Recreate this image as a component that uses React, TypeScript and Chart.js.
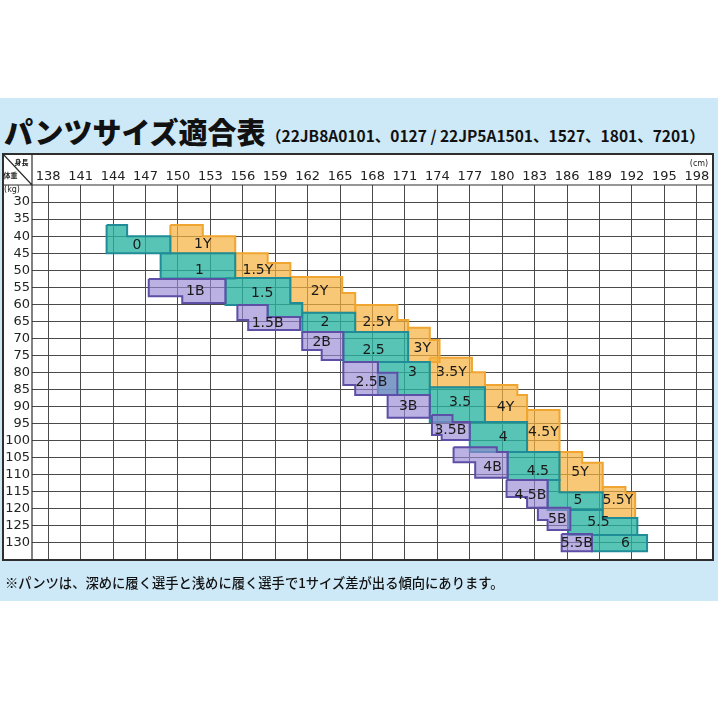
import { useEffect, useRef } from 'react';
import { Chart, registerables } from 'chart.js';

Chart.register(...registerables);

// 身長 (cm) / 体重 (kg) の目盛り
const heightTicks = [138, 141, 144, 147, 150, 153, 156, 159, 162, 165, 168, 171, 174, 177, 180, 183, 186, 189, 192, 195, 198];
const weightTicks = [30, 35, 40, 45, 50, 55, 60, 65, 70, 75, 80, 85, 90, 95, 100, 105, 110, 115, 120, 125, 130];

// Y サイズ (orange): [身長, 体重] の頂点
const ySizeNames = ['1Y', '1.5Y', '2Y', '2.5Y', '3Y', '3.5Y', '4Y', '4.5Y', '5Y', '5.5Y'];
const ySizeShapes = [
  [[149.3, 36.7], [152.3, 36.7], [152.3, 40], [155.3, 40], [155.3, 45], [149.3, 45]],
  [[155.3, 45], [158.3, 45], [158.3, 47.9], [160.4, 47.9], [160.4, 52.3], [155.3, 52.3]],
  [[160.4, 52], [165.2, 52], [165.2, 56.7], [166.4, 56.7], [166.4, 62.5], [161.5, 62.5], [161.5, 59.6], [160.4, 59.6]],
  [[166.4, 60.2], [170.3, 60.2], [170.3, 64.6], [171.3, 64.6], [171.3, 68.1], [166.4, 68.1]],
  [[171.3, 66.9], [173.3, 66.9], [173.3, 70.5], [174.2, 70.5], [174.2, 76.9], [171.3, 76.9]],
  [[173.3, 75.7], [177.2, 75.7], [177.2, 79.9], [178.4, 79.9], [178.4, 84.3], [173.3, 84.3]],
  [[178.4, 83.7], [181.4, 83.7], [181.4, 86.6], [182.3, 86.6], [182.3, 94.5], [178.4, 94.5]],
  [[182.3, 91], [185.3, 91], [185.3, 103.3], [182.3, 103.3]],
  [[185.3, 103.3], [187.4, 103.3], [187.4, 106.5], [189.3, 106.5], [189.3, 115.1], [185.3, 115.1]],
  [[189.3, 113.6], [191.4, 113.6], [191.4, 115.3], [192.3, 115.3], [192.3, 122.7], [189.3, 122.7]],
];
const ySizeLabelAt = [[152.3, 42.3], [157.4, 49.9], [163.1, 56.1], [168.5, 65.2], [172.6, 72.8], [175.3, 80.1], [180.3, 90.1], [183.8, 97.7], [187.2, 109.2], [190.7, 117.4]];

// 標準サイズ (teal)
const regSizeNames = ['0', '1', '1.5', '2', '2.5', '3', '3.5', '4', '4.5', '5', '5.5', '6'];
const regSizeShapes = [
  [[143.4, 36.7], [145.3, 36.7], [145.3, 40], [149.3, 40], [149.3, 45], [143.4, 45]],
  [[148.4, 45], [155.3, 45], [155.3, 52.4], [148.4, 52.4]],
  [[154.4, 52.3], [160.4, 52.3], [160.4, 59.6], [161.5, 59.6], [161.5, 63.7], [158.3, 63.7], [158.3, 60.2], [154.4, 60.2]],
  [[161.5, 62.5], [166.4, 62.5], [166.4, 68.1], [161.5, 68.1]],
  [[165.3, 68.1], [171.3, 68.1], [171.3, 76.9], [165.3, 76.9]],
  [[168.5, 76.9], [173.3, 76.9], [173.3, 86.6], [168.5, 86.6]],
  [[173.3, 84.3], [178.4, 84.3], [178.4, 94.5], [173.3, 94.5]],
  [[177, 94.5], [182.3, 94.5], [182.3, 103.3], [177, 103.3]],
  [[180.5, 103.3], [185.3, 103.3], [185.3, 111.5], [180.5, 111.5]],
  [[184.2, 111.5], [185.3, 111.5], [185.3, 115.1], [189.3, 115.1], [189.3, 120.3], [184.2, 120.3]],
  [[186.1, 120.3], [189.3, 120.3], [189.3, 122.7], [192.5, 122.7], [192.5, 127.7], [186.1, 127.7]],
  [[188.3, 127.7], [193.4, 127.7], [193.4, 132.4], [188.3, 132.4]],
];
const regSizeLabelAt = [[146.2, 42.6], [152, 49.9], [157.8, 56.7], [163.6, 65.2], [168.1, 73.4], [171.7, 80.1], [176.1, 88.9], [180.1, 98.9], [183.3, 108.9], [187, 117.4], [188.9, 123.9], [191.4, 130]];

// B サイズ (purple)
const bSizeNames = ['1B', '1.5B', '2B', '2.5B', '3B', '3.5B', '4B', '4.5B', '5B', '5.5B'];
const bSizeShapes = [
  [[147.3, 52.6], [154.4, 52.6], [154.4, 59.6], [150.4, 59.6], [150.4, 57.6], [147.3, 57.6]],
  [[155.5, 60.2], [158.3, 60.2], [158.3, 63.7], [161.3, 63.7], [161.3, 67.5], [156.5, 67.5], [156.5, 64.6], [155.5, 64.6]],
  [[161.5, 68.1], [165.3, 68.1], [165.3, 76.3], [163.3, 76.3], [163.3, 73.4], [161.5, 73.4]],
  [[165.3, 76.9], [168.5, 76.9], [168.5, 80.1], [170.3, 80.1], [170.3, 86.6], [166.4, 86.6], [166.4, 83.7], [165.3, 83.7]],
  [[169.4, 86.6], [173.3, 86.6], [173.3, 93.3], [169.4, 93.3]],
  [[173.5, 92.5], [175.4, 92.5], [175.4, 94.5], [177, 94.5], [177, 99.8], [174.4, 99.8], [174.4, 98.3], [173.5, 98.3]],
  [[175.5, 101.9], [179.5, 101.9], [179.5, 103.3], [180.5, 103.3], [180.5, 110.9], [177.5, 110.9], [177.5, 106.3], [175.5, 106.3]],
  [[180.4, 111.5], [184.2, 111.5], [184.2, 119.7], [182.3, 119.7], [182.3, 116.5], [180.4, 116.5]],
  [[183.3, 119.7], [186.3, 119.7], [186.3, 126.2], [184.2, 126.2], [184.2, 123.3], [183.3, 123.3]],
  [[185.5, 127.4], [188.3, 127.4], [188.3, 132.4], [185.5, 132.4]],
];
const bSizeLabelAt = [[151.6, 56.1], [158.3, 65.5], [163.3, 71.1], [167.9, 82.8], [171.3, 89.8], [175.2, 96.9], [179.1, 107.7], [182.6, 115.9], [185.1, 123], [186.9, 130]];

const NUM_FONT = '"DejaVu Sans", "Liberation Sans", sans-serif';
const JP_FONT = '"Noto Sans CJK JP", "Noto Sans", sans-serif';

function shapeDataset(shape: number[][], fill: string, border: string, order: number) {
  return {
    data: [...shape, shape[0]].map(([x, y]) => ({ x, y })),
    showLine: true,
    fill: 'shape',
    backgroundColor: fill,
    borderColor: border,
    borderWidth: 2,
    borderJoinStyle: 'miter',
    pointRadius: 0,
    tension: 0,
    order,
  };
}

const sizeLabels = {
  id: 'sizeLabels',
  afterDatasetsDraw(chart: any) {
    const { ctx } = chart;
    const xs = chart.scales.x;
    const ys = chart.scales.y;
    ctx.save();
    ctx.font = `14px ${NUM_FONT}`;
    ctx.fillStyle = '#1a1a1a';
    ctx.textAlign = 'center';
    ctx.textBaseline = 'middle';
    const groups: [string[], number[][]][] = [
      [ySizeNames, ySizeLabelAt],
      [regSizeNames, regSizeLabelAt],
      [bSizeNames, bSizeLabelAt],
    ];
    groups.forEach(([names, at]) => {
      names.forEach((n, i) => {
        ctx.fillText(n, xs.getPixelForValue(at[i][0]), ys.getPixelForValue(at[i][1]));
      });
    });
    ctx.restore();
  },
};

const tableFrame = {
  id: 'tableFrame',
  beforeDraw(chart: any) {
    const { ctx, chartArea } = chart;
    const left = chart.scales.y.left;
    const top = chart.scales.x.top;
    ctx.save();
    ctx.fillStyle = '#ffffff';
    ctx.fillRect(left, top, chartArea.right - left, chartArea.bottom - top);
    ctx.restore();
  },
  afterDraw(chart: any) {
    const { ctx, chartArea } = chart;
    const left = chart.scales.y.left;
    const top = chart.scales.x.top;
    ctx.save();
    ctx.strokeStyle = '#2e2e2e';
    ctx.lineWidth = 1.2;
    ctx.beginPath();
    ctx.moveTo(left, chartArea.top);
    ctx.lineTo(chartArea.right, chartArea.top);
    ctx.moveTo(chartArea.left, top);
    ctx.lineTo(chartArea.left, chartArea.bottom);
    ctx.moveTo(left, top);
    ctx.lineTo(chartArea.left, chartArea.top);
    ctx.stroke();
    ctx.lineWidth = 2;
    ctx.strokeRect(left, top, chartArea.right - left, chartArea.bottom - top);

    ctx.fillStyle = '#222';
    ctx.textAlign = 'center';
    ctx.textBaseline = 'middle';
    ctx.font = `bold 7px ${JP_FONT}`;
    ctx.fillText('身長', left + 18.5, top + 8);
    ctx.fillText('体重', left + 7.5, top + 21);
    ctx.font = `8px ${NUM_FONT}`;
    ctx.fillText('(kg)', left + 9, chartArea.top + 5);
    ctx.fillText('(cm)', chartArea.right - 14, top + 10);
    ctx.restore();
  },
};

export default function App() {
  const canvasRef = useRef<HTMLCanvasElement>(null);
  const chartRef = useRef<Chart | null>(null);

  useEffect(() => {
    if (!canvasRef.current) return;
    if (chartRef.current) chartRef.current.destroy();

    const datasets = [
      ...bSizeShapes.map((s) => shapeDataset(s, 'rgba(150,135,210,0.65)', '#5e4fa6', 1)),
      ...regSizeShapes.map((s) => shapeDataset(s, 'rgba(40,180,160,0.78)', '#1f8c98', 2)),
      ...ySizeShapes.map((s) => shapeDataset(s, 'rgba(246,176,60,0.7)', '#efa52f', 3)),
    ];

    chartRef.current = new Chart(canvasRef.current, {
      type: 'scatter',
      data: { datasets } as any,
      options: {
        animation: false,
        responsive: false,
        events: [],
        layout: { padding: { left: 3, top: 154, right: 5, bottom: 158 } },
        plugins: {
          legend: { display: false },
          tooltip: { enabled: false },
        },
        scales: {
          x: {
            type: 'linear',
            position: 'top',
            min: 136.5,
            max: 199.5,
            afterBuildTicks: (axis: any) => {
              axis.ticks = heightTicks.map((v) => ({ value: v }));
            },
            afterFit: (axis: any) => {
              axis.height = 31;
            },
            ticks: {
              autoSkip: false,
              maxRotation: 0,
              padding: 1,
              color: '#222',
              font: { family: NUM_FONT, size: 13 },
              callback: (v: any) => String(v),
            },
            grid: { color: '#4a4a4a', lineWidth: 1, drawTicks: false },
            border: { display: false },
          },
          y: {
            type: 'linear',
            reverse: true,
            min: 25,
            max: 135,
            afterBuildTicks: (axis: any) => {
              axis.ticks = weightTicks.map((v) => ({ value: v }));
            },
            afterFit: (axis: any) => {
              axis.width = 29;
            },
            ticks: {
              autoSkip: false,
              padding: 2,
              color: '#222',
              font: { family: NUM_FONT, size: 13 },
              callback: (v: any) => String(v),
            },
            grid: { color: '#4a4a4a', lineWidth: 1, drawTicks: false },
            border: { display: false },
          },
        },
      },
      plugins: [tableFrame, sizeLabels],
    } as any);

    return () => {
      if (chartRef.current) {
        chartRef.current.destroy();
        chartRef.current = null;
      }
    };
  }, []);

  return (
    <div style={{ position: 'absolute', left: 0, top: 0, width: 718, height: 718, background: '#fff', overflow: 'hidden' }}>
      <div style={{ position: 'absolute', left: 0, top: 98, width: 718, height: 503, background: '#cde8f7' }} />
      <div
        style={{
          position: 'absolute', left: 4, top: 117, fontFamily: JP_FONT, fontWeight: 900,
          fontSize: 29, lineHeight: '29px', whiteSpace: 'nowrap', color: '#111',
        }}
      >
        パンツサイズ適合表
      </div>
      <div
        style={{
          position: 'absolute', left: 266, top: 127, fontFamily: JP_FONT, fontWeight: 700,
          fontSize: 15.5, lineHeight: '16px', whiteSpace: 'nowrap', color: '#111',
        }}
      >
        （22JB8A0101、0127 / 22JP5A1501、1527、1801、7201）
      </div>
      <canvas ref={canvasRef} width={718} height={718} style={{ position: 'absolute', left: 0, top: 0, width: 718, height: 718 }} />
      <div
        style={{
          position: 'absolute', left: 5, top: 576, fontFamily: JP_FONT, fontWeight: 500,
          fontSize: 13.3, lineHeight: '14px', whiteSpace: 'nowrap', color: '#111',
        }}
      >
        ※パンツは、深めに履く選手と浅めに履く選手で1サイズ差が出る傾向にあります。
      </div>
    </div>
  );
}
